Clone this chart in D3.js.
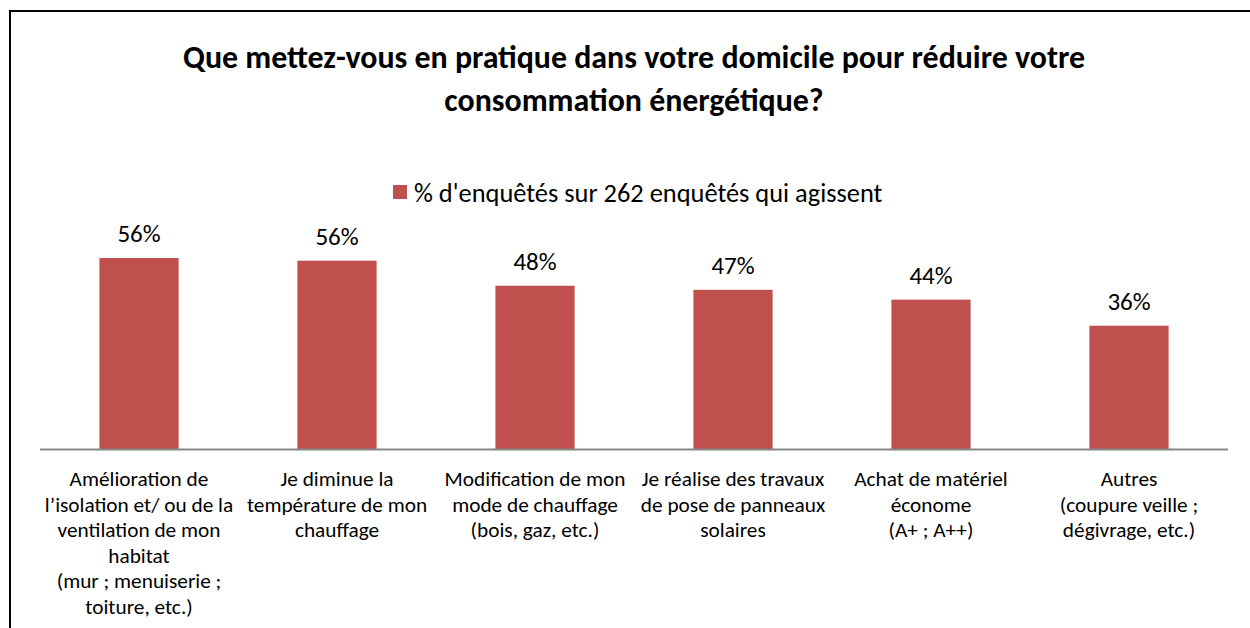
<!DOCTYPE html>
<html>
<head>
<meta charset="utf-8">
<script src="https://cdn.jsdelivr.net/npm/d3@7"></script>
<style>
  body { margin: 0; background: #fff; }
  text { font-family: Carlito, Calibri, Lato, "Open Sans", sans-serif; fill: #000; }
</style>
</head>
<body>
<script>
// data
var categories = [
  ["Amélioration de", "l’isolation et/ ou de la", "ventilation de mon", "habitat", "(mur ; menuiserie ;", "toiture, etc.)"],
  ["Je diminue la", "température de mon", "chauffage"],
  ["Modification de mon", "mode de chauffage", "(bois, gaz, etc.)"],
  ["Je réalise  des travaux", "de pose de panneaux", "solaires"],
  ["Achat de matériel", "économe", "(A+ ; A++)"],
  ["Autres", "(coupure veille ;", "dégivrage, etc.)"]
];
var values = [0.564, 0.556, 0.482, 0.470, 0.441, 0.364];
var seriesName = "% d'enquêtés sur 262 enquêtés qui agissent";
var titleLines = ["Que mettez-vous en pratique dans votre domicile pour réduire votre", "consommation énergétique?"];

var W = 1250, H = 628;
var barColor = "#c0504d";

var svg = d3.select("body").append("svg")
    .attr("width", W)
    .attr("height", H);

// outer frame (right and bottom edges fall outside the picture)
svg.append("rect")
    .attr("x", 10).attr("y", 11)
    .attr("width", 1400).attr("height", 800)
    .attr("fill", "none")
    .attr("stroke", "#000")
    .attr("stroke-width", 2);

// title
svg.append("text")
    .attr("text-anchor", "middle")
    .attr("font-weight", "bold")
    .attr("font-size", 31.9)
  .selectAll("tspan")
    .data(titleLines)
  .enter().append("tspan")
    .attr("x", 634)
    .attr("y", function(d, i) { return 68 + i * 43; })
    .text(function(d) { return d; });

// scales
var x = d3.scaleBand()
    .domain(d3.range(categories.length))
    .range([40, 1228])
    .paddingInner(0.6)
    .paddingOuter(0.3);

var y = d3.scaleLinear()
    .domain([0, 0.6])
    .range([449, 449 - 60 * 3.387]);

// legend
var legend = svg.append("g").attr("transform", "translate(393,185)");
legend.append("rect")
    .attr("width", 14).attr("height", 14)
    .attr("fill", barColor);
legend.append("text")
    .attr("x", 21).attr("y", 17)
    .attr("font-size", 26.4)
    .text(seriesName);

// bars
svg.selectAll(".bar")
    .data(values)
  .enter().append("rect")
    .attr("class", "bar")
    .attr("x", function(d, i) { return x(i); })
    .attr("y", function(d) { return y(d); })
    .attr("width", x.bandwidth())
    .attr("height", function(d) { return y(0) - y(d); })
    .attr("fill", barColor);

// value labels
svg.selectAll(".val")
    .data(values)
  .enter().append("text")
    .attr("class", "val")
    .attr("text-anchor", "middle")
    .attr("font-size", 25)
    .attr("x", function(d, i) { return x(i) + x.bandwidth() / 2; })
    .attr("y", function(d) { return y(d) - 16; })
    .text(d3.format(".0%"));

// x axis line
svg.append("line")
    .attr("x1", 40).attr("x2", 1228)
    .attr("y1", y(0) + 0.5).attr("y2", y(0) + 0.5)
    .attr("stroke", "#868686")
    .attr("stroke-width", 2);

// category labels
svg.selectAll(".cat")
    .data(categories)
  .enter().append("text")
    .attr("class", "cat")
    .attr("text-anchor", "middle")
    .attr("font-size", 21.3)
  .selectAll("tspan")
    .data(function(d, i) { return d.map(function(s) { return {s: s, i: i}; }); })
  .enter().append("tspan")
    .attr("x", function(d) { return x(d.i) + x.bandwidth() / 2; })
    .attr("y", function(d, j) { return 486 + j * 25.5; })
    .text(function(d) { return d.s; });
</script>
</body>
</html>
